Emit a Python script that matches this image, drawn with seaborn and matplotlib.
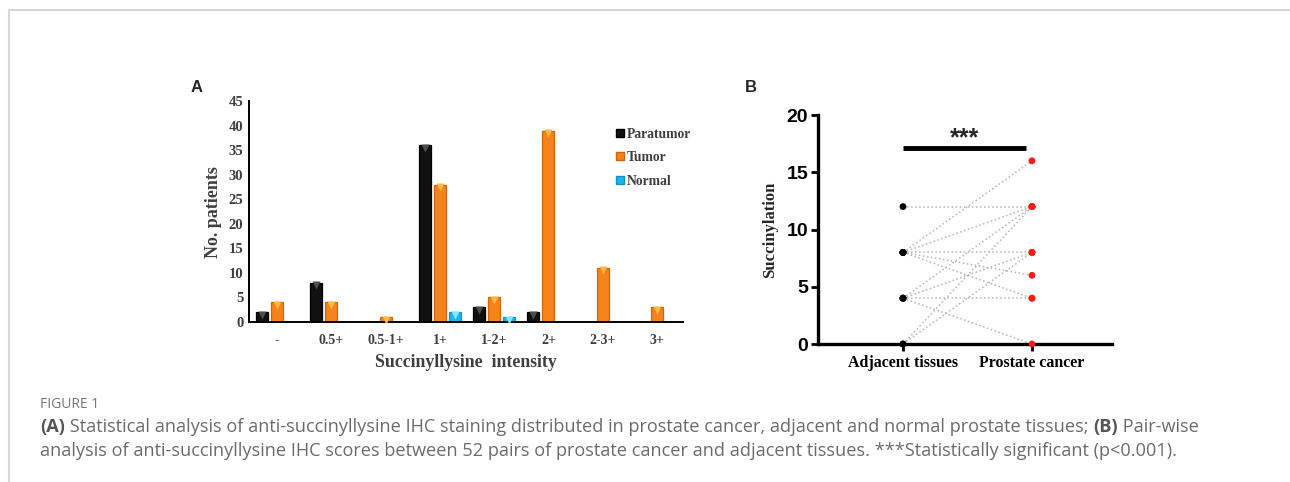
import numpy as np
import pandas as pd
import matplotlib
matplotlib.use("Agg")
import matplotlib.pyplot as plt
from matplotlib.lines import Line2D
import seaborn as sns

# ---------------- data ----------------
categories = ["-", "0.5+", "0.5-1+", "1+", "1-2+", "2+", "2-3+", "3+"]
paratumor = [2, 8, 0, 36, 3, 2, 0, 0]
tumor = [4, 4, 1, 28, 5, 39, 11, 3]
normal = [0, 0, 0, 2, 1, 0, 0, 0]
groups = ["Paratumor", "Tumor", "Normal"]
yticks_a = [0, 5, 10, 15, 20, 25, 30, 35, 40, 45]

tissue_labels = ["Adjacent tissues", "Prostate cancer"]
adjacent_scores = [12, 8, 8, 8, 8, 8, 4, 4, 4, 4, 0, 0]
cancer_scores = [12, 16, 12, 8, 6, 4, 12, 8, 4, 0, 12, 8]
yticks_b = [0, 5, 10, 15, 20]

caption_title = "FIGURE 1"
caption_1 = ("Statistical analysis of anti-succinyllysine IHC staining distributed in prostate cancer, "
             "adjacent and normal prostate tissues; ")
caption_2 = "Pair-wise"
caption_3 = ("analysis of anti-succinyllysine IHC scores between 52 pairs of prostate cancer and adjacent "
             "tissues. ***Statistically significant (p<0.001).")

# ---------------- style ----------------
sns.set_theme(style="white")
plt.rcParams["font.family"] = ["Liberation Serif", "DejaVu Serif"]

face = {"Paratumor": "#111111", "Tumor": "#f5821a", "Normal": "#1fb4ea"}
edge = {"Paratumor": "#000000", "Tumor": "#cf650c", "Normal": "#1592c2"}
tri = {"Paratumor": "#4d4d4d", "Tumor": "#fdb848", "Normal": "#8fe2fc"}
gray_txt = "#3f3f3f"

fig = plt.figure(figsize=(12.9, 4.82), dpi=100)

# ---------------- panel A ----------------
axA = fig.add_axes([0.193, 0.332, 0.3365, 0.458])
df_a = pd.DataFrame({
    "intensity": categories * 3,
    "group": [g for g in groups for _ in categories],
    "count": paratumor + tumor + normal,
})
sns.barplot(data=df_a, x="intensity", y="count", hue="group", order=categories,
            hue_order=groups, palette=face, saturation=1, width=0.83, gap=0.2, ax=axA,
            edgecolor="none", linewidth=0, legend=False)
n = len(categories)
for gi, g in enumerate(groups):
    for p in axA.patches[gi * n:(gi + 1) * n]:
        p.set_edgecolor(edge[g])
        p.set_linewidth(0.9)
        h = p.get_height()
        if h > 0:
            cx = p.get_x() + p.get_width() / 2
            axA.plot([cx], [h - 0.5], marker="v", ms=6, color=tri[g],
                     mec="none", zorder=5)

axA.set_xlim(-0.52, 7.48)
axA.set_ylim(0, 45)
axA.set_yticks(yticks_a)
axA.set_yticklabels([str(v) for v in yticks_a], fontsize=10.5, fontweight="bold", color=gray_txt)
axA.set_xticks(range(n))
axA.set_xticklabels(categories, fontsize=10, fontweight="bold", color=gray_txt)
axA.tick_params(axis="x", length=0, pad=9)
axA.tick_params(axis="y", length=0, pad=4)
axA.set_xlabel("Succinyllysine  intensity", fontsize=12.8, fontweight="bold", color=gray_txt, labelpad=5)
axA.set_ylabel("No. patients", fontsize=13, fontweight="bold", color=gray_txt, labelpad=5)
for s in ["top", "right"]:
    axA.spines[s].set_visible(False)
for s in ["left", "bottom"]:
    axA.spines[s].set_color("#000000")
    axA.spines[s].set_linewidth(1.4)

handles = [Line2D([0], [0], marker="s", ls="none", ms=6, mfc=face[g], mec=edge[g]) for g in groups]
leg = axA.legend(handles, groups, loc="upper left", bbox_to_anchor=(0.833, 0.905),
                 frameon=False, handlelength=0.6, handletextpad=0.2, labelspacing=0.78,
                 borderaxespad=0, prop={"family": "Liberation Serif", "weight": "bold", "size": 9.8})
for t in leg.get_texts():
    t.set_color(gray_txt)

# ---------------- panel B ----------------
axB = fig.add_axes([0.634, 0.2863, 0.228, 0.4751])
rows = []
for i, (a, c) in enumerate(zip(adjacent_scores, cancer_scores)):
    rows.append({"pair": i, "pos": 0, "tissue": tissue_labels[0], "score": a})
    rows.append({"pair": i, "pos": 1, "tissue": tissue_labels[1], "score": c})
df_b = pd.DataFrame(rows)
sns.lineplot(data=df_b, x="pos", y="score", units="pair", estimator=None,
             color="#b5b5b5", linestyle=":", linewidth=1.1, ax=axB, legend=False)
sns.scatterplot(data=df_b, x="pos", y="score", hue="tissue",
                palette={tissue_labels[0]: "#000000", tissue_labels[1]: "#ff1a1a"},
                s=24, edgecolor="none", ax=axB, legend=False, zorder=5, clip_on=False)
axB.set_xlim(-0.66, 1.62)
axB.set_ylim(0, 20)
axB.set_yticks(yticks_b)
axB.set_yticklabels([str(v) for v in yticks_b], fontsize=14, fontweight="bold",
                    family="Liberation Sans", color="black")
axB.set_xticks([0, 1])
axB.set_xticklabels(tissue_labels, fontsize=11.4, fontweight="bold", color="black")
axB.tick_params(axis="y", direction="out", length=5, width=2, color="black", pad=2, left=True)
axB.tick_params(axis="x", direction="out", length=5, width=2, color="black", pad=3, bottom=True)
axB.set_xlabel("")
axB.set_ylabel("Succinylation", fontsize=12, fontweight="bold", labelpad=6)
for s in ["top", "right"]:
    axB.spines[s].set_visible(False)
for s in ["left", "bottom"]:
    axB.spines[s].set_color("black")
    axB.spines[s].set_linewidth(2.4)
axB.plot([0, 0.95], [17.15, 17.15], color="black", lw=3.5, solid_capstyle="butt", clip_on=False)
axB.text(0.475, 18.0, "***", ha="center", va="center", fontsize=18, fontweight="bold",
         family="Liberation Sans")

# ---------------- panel labels, caption, frame ----------------
fig.text(197 / 1290, 1 - 87 / 482, "A", fontsize=12, fontweight="bold", family="Liberation Sans",
         ha="center", va="center")
fig.text(751 / 1290, 1 - 87 / 482, "B", fontsize=12, fontweight="bold", family="Liberation Sans",
         ha="center", va="center")

cap_font = "Open Sans"
cap_size = 13.05
cap_col = "#6b6b6b"
fig.text(40 / 1290, 1 - 404 / 482, caption_title, fontsize=10, color="#777777", family=cap_font,
         va="center")
y1 = 1 - 427 / 482
t = fig.text(40 / 1290, y1, "(A)", fontsize=cap_size, color="#555555", family=cap_font,
             fontweight="bold", va="center")
fig.canvas.draw()
r = fig.canvas.get_renderer()


def after(txt, s, **kw):
    bb = txt.get_window_extent(r)
    return fig.text(bb.x1 / fig.bbox.width, txt.get_position()[1], s, va="center", **kw)


t2 = after(t, " " + caption_1, fontsize=cap_size, color=cap_col, family=cap_font)
t3 = after(t2, "(B)", fontsize=cap_size, color="#555555", family=cap_font, fontweight="bold")
t4 = after(t3, " " + caption_2, fontsize=cap_size, color=cap_col, family=cap_font)
fig.text(40 / 1290, 1 - 451 / 482, caption_3, fontsize=cap_size, color=cap_col, family=cap_font,
         va="center")

fig.add_artist(Line2D([9 / 1290, 1], [1 - 10 / 482, 1 - 10 / 482], color="#d6d6d6", lw=1.5))
fig.add_artist(Line2D([9 / 1290, 9 / 1290], [0, 1 - 10 / 482], color="#d6d6d6", lw=1.5))

fig.savefig("out.png", dpi=100)
